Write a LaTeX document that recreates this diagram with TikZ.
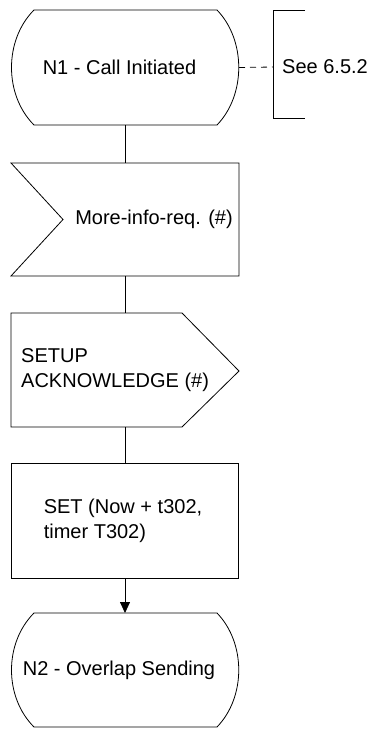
\documentclass[tikz,border=0pt]{standalone}
\usepackage{fontspec}
\setmainfont{Liberation Sans}
\usetikzlibrary{arrows.meta}
\begin{document}
\begin{tikzpicture}[x=1pt,y=-1pt,
  shp/.style={draw=none,minimum width=228pt,inner sep=0pt,outer sep=0pt},
  outl/.style={draw=black,line width=0.8pt,line join=miter},
  conn/.style={draw=black,line width=0.8pt},
  txt/.style={font=\fontsize{20}{25}\selectfont,inner sep=0pt,align=left}]
\useasboundingbox (0,0) rectangle (371,729);
% shape nodes
\node[shp,minimum height=115pt] (n1) at (125,67.5) {};
\node[shp,minimum height=113pt] (inp) at (125,219.5) {};
\node[shp,minimum height=114pt] (out) at (125,370) {};
\node[shp,minimum height=115pt] (task) at (125,520.5) {};
\node[shp,minimum height=114pt] (n2) at (125,670) {};
% outlines
\draw[outl] (34,10) -- (217,10) .. controls (246,40) and (246,95) .. (217,125)
  -- (34,125) .. controls (4,95) and (4,40) .. cycle;
\draw[outl] (11,163) -- (239,163) -- (239,276) -- (11,276) -- (63,219.5) -- cycle;
\draw[outl] (11,313) -- (182,313) -- (239,371) -- (182,427) -- (11,427) -- cycle;
\draw[outl] (11,463) rectangle (238,578);
\draw[outl] (34,613) -- (217,613) .. controls (246,643) and (246,697) .. (217,727)
  -- (34,727) .. controls (4,697) and (4,643) .. cycle;
% texts
\node[txt] (t1) at (119.5,67) {N1 - Call Initiated};
\node[txt] (t2) at (154,219) {More-info-req. (\#)};
\node[txt,anchor=west] (t3) at (21,370) {SETUP\\ACKNOWLEDGE (\#)};
\node[txt] (t4) at (123,521) {SET (Now + t302,\\timer T302)};
\node[txt] (t5) at (119,670) {N2 - Overlap Sending};
% comment bracket
\coordinate (cb) at (273,67);
\draw[outl] (305,10) -- (273,10) -- (273,118) -- (305,118);
\node[txt,anchor=west] (see) at (282,67) {See 6.5.2};
\draw[conn,dash pattern=on 6pt off 5pt] (n1.east) -- (cb);
% connectors
\draw[conn] (n1.south) -- (inp.north);
\draw[conn] (inp.south) -- (out.north);
\draw[conn] (out.south) -- (task.north);
\draw[conn,-{Triangle[length=11pt,width=10pt]}] (task.south) -- (n2.north);
\end{tikzpicture}
\end{document}
